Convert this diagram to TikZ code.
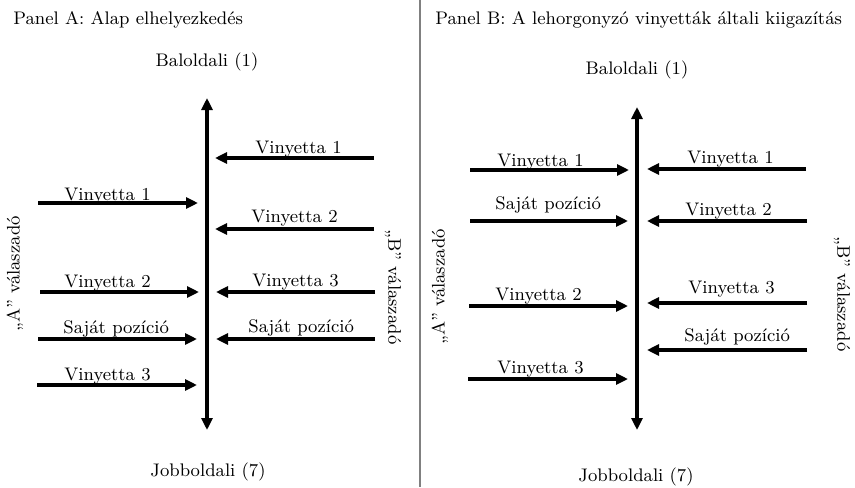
\documentclass[tikz,border=0pt]{standalone}
\usetikzlibrary{arrows.meta}
\begin{document}
\begin{tikzpicture}[x=0.5pt,y=-0.5pt,
    font=\fontsize{9.1}{11}\selectfont,
    resp/.style={line width=1.6pt,-{Triangle[length=6pt,width=5.5pt]}},
    scale axis/.style={line width=2pt,{Triangle[length=6pt,width=5.5pt]}-{Triangle[length=6pt,width=5.5pt]}},
    lbl/.style={inner sep=0pt,anchor=base west},
    pole/.style={inner sep=0pt}]
      \useasboundingbox (0,0) rectangle (855,487);
      % divider
      \coordinate (divtop) at (420,0);
      \coordinate (divbot) at (420,487);
      \draw [gray,line width=0.6pt] (divtop) -- (divbot);
      % Panel A
      \node [lbl] (titleA) at (13,25) {Panel A: Alap elhelyezkedés};
      \node [pole] (leftA) at (207,62) {Baloldali (1)};
      \node [pole] (rightA) at (208,472) {Jobboldali (7)};
      \coordinate (axAtop) at (207,98);
      \coordinate (axAbot) at (207,430);
      \draw [scale axis] (axAbot) -- (axAtop);
      \node [pole,rotate=90] (respAa) at (15,274) {„A” válaszadó};
      \node [pole,rotate=-90] (respAb) at (393,287) {„B” válaszadó};
      % A respondent, panel A
      \coordinate (aA1s) at (38,203);  \coordinate (aA1e) at (198,203);
      \coordinate (aA2s) at (40,292);  \coordinate (aA2e) at (199,292);
      \coordinate (aAss) at (38,339);  \coordinate (aAse) at (197,339);
      \coordinate (aA3s) at (37,385);  \coordinate (aA3e) at (197,385);
      \draw [resp] (aA1s) -- (aA1e);
      \draw [resp] (aA2s) -- (aA2e);
      \draw [resp] (aAss) -- (aAse);
      \draw [resp] (aA3s) -- (aA3e);
      \node [lbl] (laA1) at (64,200) {Vinyetta 1};
      \node [lbl] (laA2) at (64,287) {Vinyetta 2};
      \node [lbl] (laAs) at (63,333) {Saját pozíció};
      \node [lbl] (laA3) at (64,380) {Vinyetta 3};
      % B respondent, panel A
      \coordinate (bA1s) at (374,158); \coordinate (bA1e) at (215,158);
      \coordinate (bA2s) at (374,229); \coordinate (bA2e) at (215,229);
      \coordinate (bA3s) at (375,292); \coordinate (bA3e) at (216,292);
      \coordinate (bAss) at (375,339); \coordinate (bAse) at (216,339);
      \draw [resp] (bA1s) -- (bA1e);
      \draw [resp] (bA2s) -- (bA2e);
      \draw [resp] (bA3s) -- (bA3e);
      \draw [resp] (bAss) -- (bAse);
      \node [lbl] (lbA1) at (255,153) {Vinyetta 1};
      \node [lbl] (lbA2) at (251,222) {Vinyetta 2};
      \node [lbl] (lbA3) at (252,286) {Vinyetta 3};
      \node [lbl] (lbAs) at (248,332) {Saját pozíció};
      % Panel B
      \node [lbl] (titleB) at (435,25) {Panel B: A lehorgonyzó vinyetták általi kiigazítás};
      \node [pole] (leftB) at (637,70) {Baloldali (1)};
      \node [pole] (rightB) at (636,477) {Jobboldali (7)};
      \coordinate (axBtop) at (637,107);
      \coordinate (axBbot) at (637,430);
      \draw [scale axis] (axBbot) -- (axBtop);
      \node [pole,rotate=90] (respBa) at (440,287) {„A” válaszadó};
      \node [pole,rotate=-90] (respBb) at (842,294) {„B” válaszadó};
      % A respondent, panel B
      \coordinate (aB1s) at (470,170); \coordinate (aB1e) at (629,170);
      \coordinate (aBss) at (470,221); \coordinate (aBse) at (628,221);
      \coordinate (aB2s) at (469,306); \coordinate (aB2e) at (628,306);
      \coordinate (aB3s) at (468,379); \coordinate (aB3e) at (628,379);
      \draw [resp] (aB1s) -- (aB1e);
      \draw [resp] (aBss) -- (aBse);
      \draw [resp] (aB2s) -- (aB2e);
      \draw [resp] (aB3s) -- (aB3e);
      \node [lbl] (laB1) at (497,166) {Vinyetta 1};
      \node [lbl] (laBs) at (495,209) {Saját pozíció};
      \node [lbl] (laB2) at (495,300) {Vinyetta 2};
      \node [lbl] (laB3) at (497,373) {Vinyetta 3};
      % B respondent, panel B
      \coordinate (bB1s) at (806,169); \coordinate (bB1e) at (647,169);
      \coordinate (bB2s) at (807,221); \coordinate (bB2e) at (647,221);
      \coordinate (bB3s) at (807,303); \coordinate (bB3e) at (647,303);
      \coordinate (bBss) at (807,350); \coordinate (bBse) at (647,350);
      \draw [resp] (bB1s) -- (bB1e);
      \draw [resp] (bB2s) -- (bB2e);
      \draw [resp] (bB3s) -- (bB3e);
      \draw [resp] (bBss) -- (bBse);
      \node [lbl] (lbB1) at (687,163) {Vinyetta 1};
      \node [lbl] (lbB2) at (685,215) {Vinyetta 2};
      \node [lbl] (lbB3) at (688,293) {Vinyetta 3};
      \node [lbl] (lbBs) at (684,341) {Saját pozíció};
\end{tikzpicture}
\end{document}
